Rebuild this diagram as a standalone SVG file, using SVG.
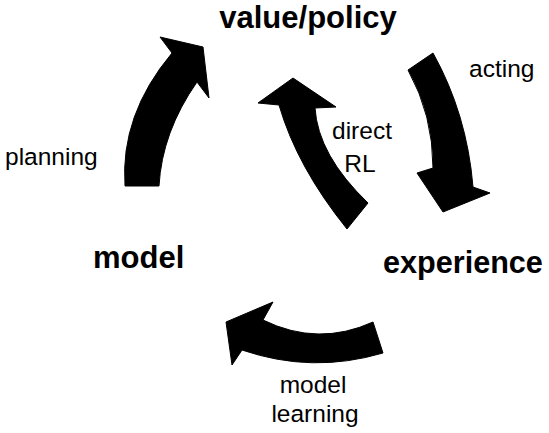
<svg xmlns="http://www.w3.org/2000/svg" width="549" height="433" viewBox="0 0 549 433">
<style>
.arrow{fill:#000;stroke:#000;stroke-width:1;stroke-linejoin:miter}
.big{font-family:"Liberation Sans",Arial,sans-serif;font-weight:bold;font-size:31px;fill:#000}
.lbl{font-family:"Liberation Sans",Arial,sans-serif;font-size:24.5px;fill:#000}
</style>
<rect width="549" height="433" fill="#fff"/>
<g id="connectors">
<path id="planning-arrow" class="arrow" d="M125,186 L159,186 Q162,132 197,82 L209,98 L203,47 L160,37 L172,53 Q120,115 125,186 Z"/>
<path id="acting-arrow" class="arrow" d="M408,70 L433,53 Q467,114 473,187 L490,193 L443,212 L417,173 L433,168 Q433,115 408,70 Z"/>
<path id="directrl-arrow" class="arrow" d="M347,229 L368,203 Q318,155 315,108 L336,107 L293,78 L258,103 L279,105 Q297,167 347,229 Z"/>
<path id="modellearning-arrow" class="arrow" d="M373,322 L383,353 Q312,374 242,350 L232,365 L226,322 L273,302 L263,320 Q318,347 373,322 Z"/>
</g>
<g id="value-policy"><text class="big" x="308" y="28" text-anchor="middle">value/policy</text></g>
<g id="experience"><text class="big" x="383" y="273" style="font-size:30.6px">experience</text></g>
<g id="model"><text class="big" x="93" y="268">model</text></g>
<g id="label-planning"><text class="lbl" x="5" y="165">planning</text></g>
<g id="label-acting"><text class="lbl" x="469" y="77">acting</text></g>
<g id="label-direct-rl"><text class="lbl" x="362" y="139" text-anchor="middle">direct</text><text class="lbl" x="360" y="172" text-anchor="middle">RL</text></g>
<g id="label-model-learning"><text class="lbl" x="313" y="393" text-anchor="middle">model</text><text class="lbl" x="315" y="422" text-anchor="middle">learning</text></g>
</svg>
